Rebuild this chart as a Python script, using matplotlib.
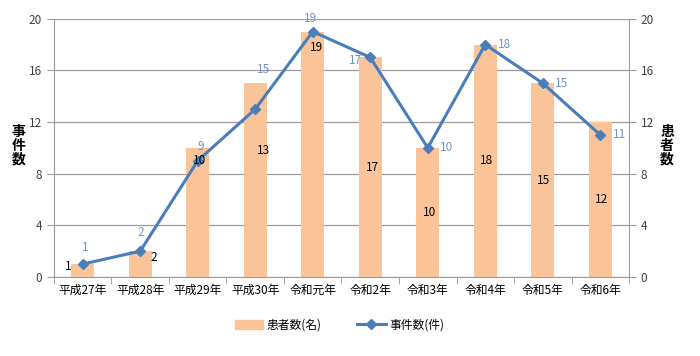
import numpy as np
import matplotlib
matplotlib.use("Agg")
import matplotlib.pyplot as plt
from matplotlib.lines import Line2D
from matplotlib.patches import Patch

plt.rcParams['font.family'] = ['Noto Sans CJK JP', 'DejaVu Sans']

# data
years = ['平成27年', '平成28年', '平成29年', '平成30年', '令和元年',
         '令和2年', '令和3年', '令和4年', '令和5年', '令和6年']
patients = [1, 2, 10, 15, 19, 17, 10, 18, 15, 12]   # 患者数(名)
cases = [1, 2, 9, 13, 19, 17, 10, 18, 15, 11]        # 事件数(件)
# the labels as printed on the original chart
bar_labels = ['1', '2', '10', '13', '19', '17', '10', '18', '15', '12']
line_labels = ['1', '2', '9', '15', '19', '17', '10', '18', '15', '11']

# label placement (pixel offsets, picked to mimic the original layout)
bar_label_off = [(-14, 4), (14, 7), (2, 52), (8, 30), (4, 107),
                 (2, 0), (2, 0), (1, 0), (1, 0), (1, 0)]
line_label_off = [(3, 17), (1, 19), (3, 14), (8, 40), (-2, 13),
                  (-15, -3), (19, 0), (19, 0), (19, 0), (19, 0)]

bar_col = '#FAC498'
line_col = '#4A7EBB'
lab_blue = '#6F93C4'
grid_col = '#9A9A9A'
txt_col = '#404040'

fig = plt.figure(figsize=(7, 3.56), dpi=100)
ax = fig.add_axes([0.0771, 0.2219, 0.8215, 0.7256])
x = np.arange(len(years))

ax.bar(x, patients, width=0.4, color=bar_col, zorder=2)
ax.plot(x, cases, color=line_col, lw=2.2, marker='D', ms=5, zorder=3)

# bar labels: default centre of bar, some moved by hand
for i, (lab, v) in enumerate(zip(bar_labels, patients)):
    dx, dy = bar_label_off[i]
    ax.annotate(lab, (x[i], v / 2), xytext=(dx, dy), textcoords='offset pixels',
                ha='center', va='center', fontsize=8.5, color='black', zorder=4)

for i, (lab, v) in enumerate(zip(line_labels, cases)):
    dx, dy = line_label_off[i]
    ax.annotate(lab, (x[i], v), xytext=(dx, dy), textcoords='offset pixels',
                ha='center', va='center', fontsize=8.5, color=lab_blue, zorder=4)

ax.set_xlim(-0.5, len(years) - 0.5)
ax.set_ylim(0, 20)
ax.set_yticks(range(0, 21, 4))
ax.yaxis.grid(True, color=grid_col, lw=0.9, zorder=0)
ax.set_axisbelow(True)

ax.set_xticks(x)
ax.set_xticklabels(years, fontsize=8.5, color='black')
ax.set_xticks(np.arange(-0.5, len(years)), minor=True)
ax.tick_params(axis='x', which='major', length=0, pad=5)
ax.tick_params(axis='x', which='minor', length=5, color=grid_col, direction='out')
ax.tick_params(axis='y', length=5, color=grid_col, labelsize=8.5, labelcolor=txt_col)

for s in ['top', 'right']:
    ax.spines[s].set_visible(False)
for s in ['left', 'bottom']:
    ax.spines[s].set_color(grid_col)

ax2 = ax.twinx()
ax2.set_ylim(0, 20)
ax2.set_yticks(range(0, 21, 4))
ax2.tick_params(axis='y', length=5, color=grid_col, labelsize=8.5, labelcolor=txt_col)
for s in ['top', 'left', 'bottom']:
    ax2.spines[s].set_visible(False)
ax2.spines['right'].set_color(grid_col)

fig.text(0.026, 0.59, '事\n件\n数', fontsize=10, fontweight='bold',
         ha='center', va='center', linespacing=1.0)
fig.text(0.953, 0.59, '患\n者\n数', fontsize=10, fontweight='bold',
         ha='center', va='center', linespacing=1.0)

handles = [Patch(color=bar_col, label='患者数(名)'),
           Line2D([], [], color=line_col, lw=2.2, marker='D', ms=5, label='事件数(件)')]
fig.legend(handles=handles, loc='center', bbox_to_anchor=(0.485, 0.087), ncol=2,
           frameon=False, fontsize=8.5, handlelength=2.4, columnspacing=3.0,
           handletextpad=0.3)

fig.savefig('out.png', dpi=100)
